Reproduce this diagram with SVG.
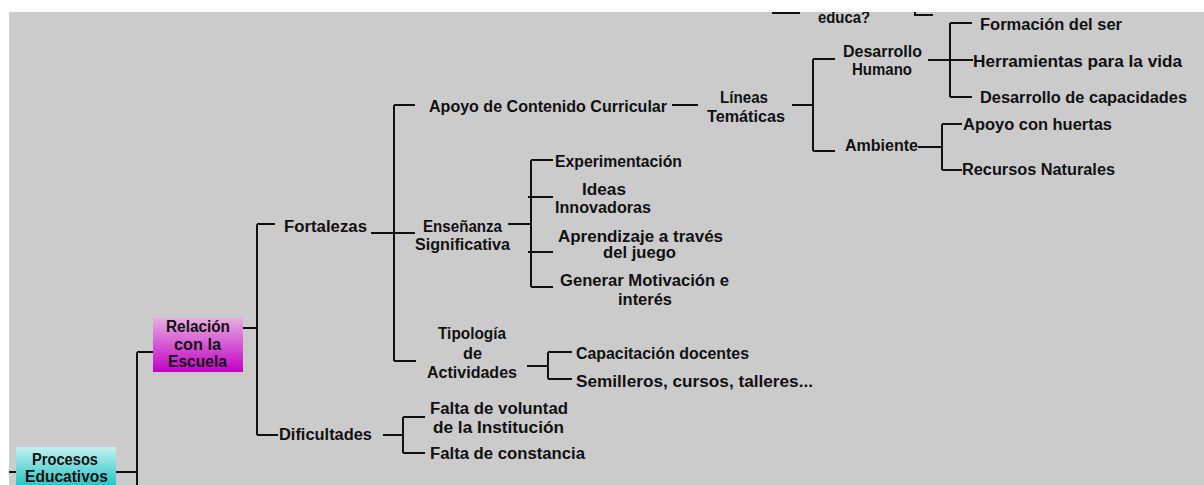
<svg xmlns="http://www.w3.org/2000/svg" width="1204" height="485" viewBox="0 0 1204 485">
<style>
.t{font-family:"Liberation Sans",Arial,sans-serif;font-size:16px;font-weight:bold;fill:#111;}
.c{fill:none;stroke:#111;stroke-width:2;}
</style>
<defs>
<linearGradient id="gPink" x1="0" y1="0" x2="0" y2="1">
<stop offset="0" stop-color="#E6AEE0"/>
<stop offset="1" stop-color="#C400C4"/>
</linearGradient>
<linearGradient id="gCyan" x1="0" y1="0" x2="0" y2="1">
<stop offset="0" stop-color="#C4F0F0"/>
<stop offset="1" stop-color="#22C4C4"/>
</linearGradient>
<clipPath id="clip"><rect x="9" y="12" width="1195" height="473"/></clipPath>
</defs>
<rect x="0" y="0" width="1204" height="485" fill="#FFFFFF"/>
<rect x="9" y="12" width="1195" height="473" fill="#CBCBCB"/>
<g clip-path="url(#clip)">
<g id="connectors">
<path class="c" d="M9,472H16M116,472H137M137,352V485M137,352H153"/>
<path class="c" d="M235,328H257M257,224V435M257,224H275M257,435H278"/>
<path class="c" d="M371,233H394M394,105V361M394,105H415M394,233H415M394,361H416"/>
<path class="c" d="M672,105H698M792,105H813M813,59V151M813,59H835M813,151H835"/>
<path class="c" d="M928,60H973M950,23V97M950,23H972M950,97H972"/>
<path class="c" d="M918,147H942M942,124V170M942,124H962M942,170H962"/>
<path class="c" d="M508,224H531M531,160V287M531,160H553M528,197H553M528,252H553M531,287H553"/>
<path class="c" d="M527,366H548M548,352V379M548,352H572M548,379H572"/>
<path class="c" d="M383,435H403M403,417V453M403,417H425M403,453H425"/>
<path class="c" d="M772,13H800M915,11V15H933"/>
</g>
<g id="n-educa"><text class="t" x="818" y="23" textLength="52" lengthAdjust="spacingAndGlyphs">educa?</text></g>
<g id="n-procesos">
<rect x="16" y="447" width="100" height="40" fill="url(#gCyan)"/>
<text class="t" x="32" y="465" textLength="66" lengthAdjust="spacingAndGlyphs">Procesos</text>
<text class="t" x="25" y="482" textLength="83" lengthAdjust="spacingAndGlyphs">Educativos</text>
</g>
<g id="n-relacion">
<rect x="153" y="318" width="90" height="54" fill="url(#gPink)"/>
<text class="t" x="166" y="332" textLength="64" lengthAdjust="spacingAndGlyphs">Relación</text>
<text class="t" x="174" y="350" textLength="47" lengthAdjust="spacingAndGlyphs">con la</text>
<text class="t" x="168" y="367" textLength="59" lengthAdjust="spacingAndGlyphs">Escuela</text>
</g>
<g id="n-fortalezas"><text class="t" x="284" y="232" textLength="83" lengthAdjust="spacingAndGlyphs">Fortalezas</text></g>
<g id="n-dificultades"><text class="t" x="279" y="440" textLength="93" lengthAdjust="spacingAndGlyphs">Dificultades</text></g>
<g id="n-apoyo"><text class="t" x="429" y="112" textLength="238" lengthAdjust="spacingAndGlyphs">Apoyo de Contenido Curricular</text></g>
<g id="n-lineas">
<text class="t" x="720" y="103" textLength="48" lengthAdjust="spacingAndGlyphs">Líneas</text>
<text class="t" x="707" y="122" textLength="78" lengthAdjust="spacingAndGlyphs">Temáticas</text>
</g>
<g id="n-desarrollo-humano">
<text class="t" x="843" y="57" textLength="79" lengthAdjust="spacingAndGlyphs">Desarrollo</text>
<text class="t" x="852" y="75" textLength="60" lengthAdjust="spacingAndGlyphs">Humano</text>
</g>
<g id="n-formacion"><text class="t" x="980" y="30" textLength="142" lengthAdjust="spacingAndGlyphs">Formación del ser</text></g>
<g id="n-herramientas"><text class="t" x="973" y="67" textLength="209" lengthAdjust="spacingAndGlyphs">Herramientas para la vida</text></g>
<g id="n-capacidades"><text class="t" x="980" y="103" textLength="207" lengthAdjust="spacingAndGlyphs">Desarrollo de capacidades</text></g>
<g id="n-ambiente"><text class="t" x="845" y="151" textLength="73" lengthAdjust="spacingAndGlyphs">Ambiente</text></g>
<g id="n-huertas"><text class="t" x="963" y="130" textLength="149" lengthAdjust="spacingAndGlyphs">Apoyo con huertas</text></g>
<g id="n-recursos"><text class="t" x="962" y="175" textLength="153" lengthAdjust="spacingAndGlyphs">Recursos Naturales</text></g>
<g id="n-ensenanza">
<text class="t" x="423" y="232" textLength="79" lengthAdjust="spacingAndGlyphs">Enseñanza</text>
<text class="t" x="415" y="250" textLength="95" lengthAdjust="spacingAndGlyphs">Significativa</text>
</g>
<g id="n-experimentacion"><text class="t" x="555" y="167" textLength="127" lengthAdjust="spacingAndGlyphs">Experimentación</text></g>
<g id="n-ideas">
<text class="t" x="582" y="195" textLength="44" lengthAdjust="spacingAndGlyphs">Ideas</text>
<text class="t" x="555" y="213" textLength="96" lengthAdjust="spacingAndGlyphs">Innovadoras</text>
</g>
<g id="n-aprendizaje">
<text class="t" x="558" y="242" textLength="165" lengthAdjust="spacingAndGlyphs">Aprendizaje a través</text>
<text class="t" x="603" y="258" textLength="73" lengthAdjust="spacingAndGlyphs">del juego</text>
</g>
<g id="n-motivacion">
<text class="t" x="560" y="286" textLength="169" lengthAdjust="spacingAndGlyphs">Generar Motivación e</text>
<text class="t" x="618" y="305" textLength="54" lengthAdjust="spacingAndGlyphs">interés</text>
</g>
<g id="n-tipologia">
<text class="t" x="438" y="339" textLength="68" lengthAdjust="spacingAndGlyphs">Tipología</text>
<text class="t" x="463" y="359" textLength="19" lengthAdjust="spacingAndGlyphs">de</text>
<text class="t" x="427" y="378" textLength="90" lengthAdjust="spacingAndGlyphs">Actividades</text>
</g>
<g id="n-capacitacion"><text class="t" x="576" y="359" textLength="173" lengthAdjust="spacingAndGlyphs">Capacitación docentes</text></g>
<g id="n-semilleros"><text class="t" x="576" y="387" textLength="237" lengthAdjust="spacingAndGlyphs">Semilleros, cursos, talleres...</text></g>
<g id="n-voluntad">
<text class="t" x="430" y="414" textLength="138" lengthAdjust="spacingAndGlyphs">Falta de voluntad</text>
<text class="t" x="433" y="433" textLength="131" lengthAdjust="spacingAndGlyphs">de la Institución</text>
</g>
<g id="n-constancia"><text class="t" x="430" y="459" textLength="155" lengthAdjust="spacingAndGlyphs">Falta de constancia</text></g>
</g>
</svg>
